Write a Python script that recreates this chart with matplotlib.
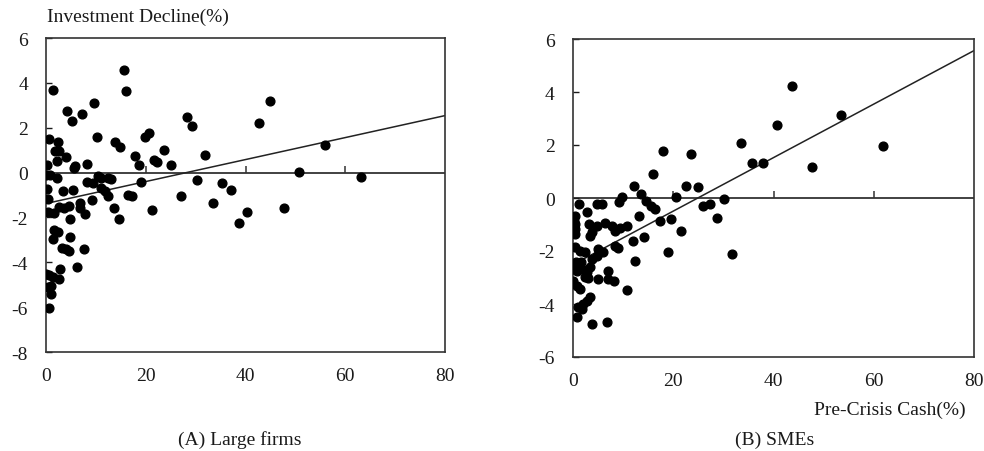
import matplotlib
matplotlib.use("Agg")
import matplotlib.pyplot as plt
import numpy as np

plt.rcParams['font.family'] = ['Liberation Serif', 'DejaVu Serif']

# ---- Data: (A) Large firms ----
large_cash = [15.6, 1.5, 16.0, 9.6, 45.0, 4.2, 7.3, 5.2, 28.3, 29.3, 42.7, 0.6, 2.5,
              10.2, 13.8, 14.9, 19.9, 20.6, 1.8, 2.6, 4.0, 2.3, 5.6, 5.9, 8.2, 0.2,
              17.9, 18.6, 21.6, 22.3, 23.6, 25.0, 31.9, 56.0, 50.7,
              63.1, 30.3, 35.3, 37.0, 33.5, 40.3, 38.7, 47.7, 27.1, 19.0, 0.1, 0.9,
              2.3, 8.3, 9.4, 10.4, 11.1, 12.4, 13.1, 0.3, 3.4, 5.5, 11.1, 11.8, 12.4,
              16.4, 17.2, 0.5, 9.3, 0.4, 1.7, 2.7, 3.7, 4.7, 6.9, 6.8, 7.9, 4.9, 13.6,
              14.6, 21.3, 1.7, 2.4, 1.4, 4.9, 3.2, 4.1, 4.7, 7.6, 2.9, 6.2, 0.0, 0.7,
              1.4, 2.7, 0.4, 1.1, 1.1, 0.7]
large_decl = [4.58, 3.69, 3.62, 3.12, 3.17, 2.75, 2.60, 2.31, 2.48, 2.08, 2.23, 1.48, 1.35,
              1.58, 1.36, 1.15, 1.60, 1.78, 0.95, 0.97, 0.70, 0.50, 0.21, 0.31, 0.40, 0.32,
              0.72, 0.33, 0.58, 0.48, 1.00, 0.32, 0.77, 1.21, 0.03,
              -0.19, -0.31, -0.47, -0.76, -1.36, -1.74, -2.23, -1.57, -1.06, -0.40, -0.13, -0.09,
              -0.25, -0.40, -0.46, -0.17, -0.25, -0.22, -0.27, -0.73, -0.84, -0.76, -0.69, -0.84, -1.06,
              -0.99, -1.06, -1.18, -1.21, -1.74, -1.81, -1.54, -1.59, -1.51, -1.36, -1.59, -1.85, -2.08, -1.59,
              -2.08, -1.66, -2.56, -2.66, -2.98, -2.89, -3.38, -3.42, -3.49, -3.41, -4.28, -4.23, -4.50, -4.58,
              -4.65, -4.73, -5.10, -5.07, -5.40, -6.04]
large_fit = (-1.38, 0.049)   # intercept, slope

# ---- Data: (B) SMEs ----
sme_cash = [43.6, 53.4, 40.6, 33.5, 61.8, 17.9, 23.6, 35.7, 38.0, 47.6, 15.9, 12.2, 22.5,
            25.0, 13.6, 9.9, 20.5, 9.2, 30.2, 14.7, 15.6, 16.4, 25.9, 27.3, 1.2, 4.9, 5.9,
            2.8, 0.4, 0.3, 0.4, 13.2, 17.3, 19.6, 28.7, 3.2, 4.8, 6.4, 7.8, 9.4, 10.8, 0.4,
            0.5, 3.8, 3.4, 8.4, 21.6, 12.1, 14.2, 18.9, 31.8, 8.4, 9.1, 5.1, 6.1, 0.5, 1.5,
            2.4, 12.4, 0.0, 0.8, 1.8, 2.8, 0.6, 1.7, 3.4, 3.8, 4.8, 7.1, 5.1, 7.1, 8.3, 0.1,
            0.8, 1.5, 2.4, 3.1, 10.9, 3.4, 2.8, 2.1, 1.1, 0.8, 1.8, 3.8, 6.8]
sme_decl = [4.21, 3.14, 2.77, 2.08, 1.95, 1.76, 1.65, 1.32, 1.32, 1.16, 0.89, 0.47, 0.47,
            0.40, 0.15, 0.04, 0.02, -0.15, -0.04, -0.10, -0.29, -0.42, -0.29, -0.23, -0.22, -0.22, -0.22,
            -0.53, -0.67, -0.86, -0.98, -0.68, -0.85, -0.78, -0.74, -0.98, -1.04, -0.94, -1.04, -1.14, -1.04, -1.17,
            -1.36, -1.29, -1.42, -1.23, -1.23, -1.61, -1.48, -2.03, -2.11, -1.80, -1.90, -1.92, -2.05, -1.86, -1.99,
            -2.05, -2.36, -2.68, -2.74, -2.68, -2.80, -2.43, -2.43, -2.62, -2.30, -2.18, -2.74, -3.06, -3.06, -3.12, -3.12,
            -3.31, -3.43, -2.99, -3.03, -3.47, -3.75, -3.87, -4.00, -4.12, -4.50, -4.19, -4.75, -4.68]
sme_fit = (-2.52, 0.1011)

xticks = [0, 20, 40, 60, 80]
large_yticks = [-8, -6, -4, -2, 0, 2, 4, 6]
sme_yticks = [-6, -4, -2, 0, 2, 4, 6]

TXT = '#1a1a1a'
FS = 14

fig = plt.figure(figsize=(9.84, 4.52), dpi=100)
axA = fig.add_axes([46/984, 1-353/452, 399/984, 314/452])
axB = fig.add_axes([572.7/984, 1-358/452, 401.6/984, 318/452])

def style(ax, cash, decl, fit, yticks):
    ax.set_xlim(0, 80)
    ax.set_ylim(yticks[0], yticks[-1])
    ax.set_xticks(xticks)
    ax.set_yticks(yticks)
    ax.set_yticklabels([str(t) for t in yticks])
    ax.tick_params(axis='x', length=0, pad=11, labelsize=FS, colors=TXT)
    ax.tick_params(axis='y', direction='in', length=4, width=1.0, pad=13,
                   labelsize=FS, colors=TXT)
    for s in ax.spines.values():
        s.set_linewidth(1.2)
        s.set_color('#333333')
    ax.axhline(0, color='#333333', lw=1.3, zorder=1)
    ax.plot(xticks[1:-1], [0]*len(xticks[1:-1]), linestyle='none', marker=2,
            markersize=5, markeredgewidth=1.1, color='#333333', zorder=1)
    ax.plot(cash, decl, linestyle='none', marker='o', markersize=6.3,
            color='black', zorder=3)
    xs = np.array([0, 80])
    ax.plot(xs, fit[0] + fit[1]*xs, color='#222222', lw=1.1, zorder=2)

style(axA, large_cash, large_decl, large_fit, large_yticks)
style(axB, sme_cash, sme_decl, sme_fit, sme_yticks)

fig.text(47/984, 1-17/452, 'Investment Decline(%)', fontsize=FS, color=TXT,
         ha='left', va='center')
fig.text(966/984, 1-410/452, 'Pre-Crisis Cash(%)', fontsize=FS, color=TXT,
         ha='right', va='center')
fig.text(240/984, 1-440/452, '(A) Large firms', fontsize=FS, color=TXT,
         ha='center', va='center')
fig.text(775/984, 1-440/452, '(B) SMEs', fontsize=FS, color=TXT,
         ha='center', va='center')

fig.savefig('out.png', dpi=100)
